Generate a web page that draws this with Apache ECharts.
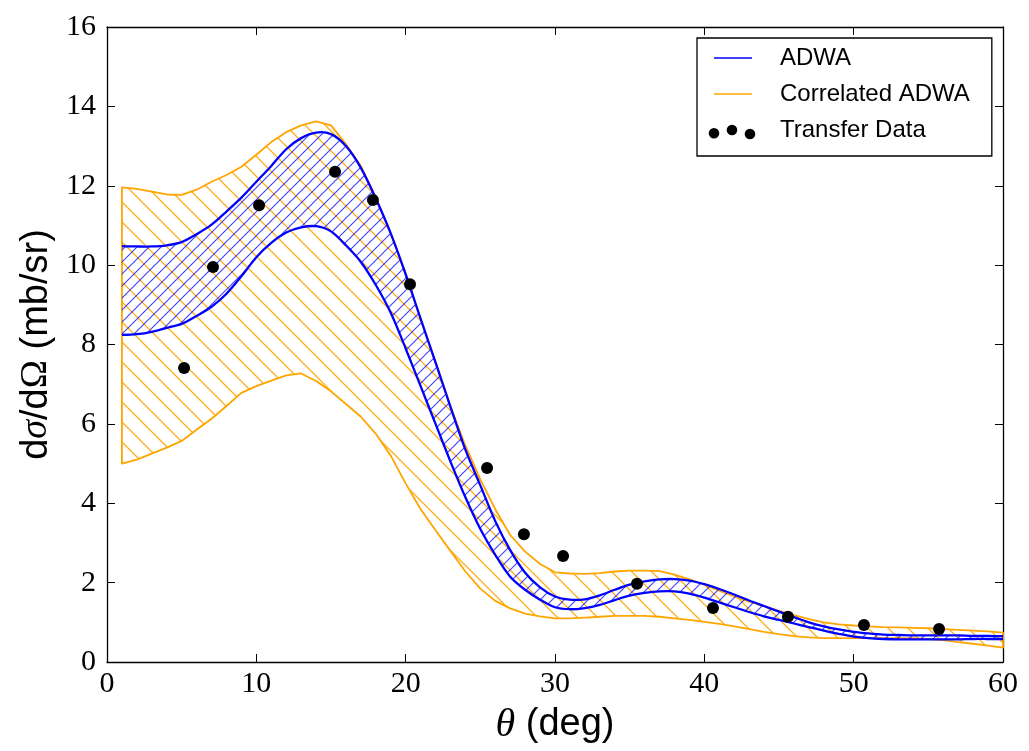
<!DOCTYPE html>
<html>
<head>
<meta charset="utf-8">
<script src="https://cdn.jsdelivr.net/npm/echarts@6.0.0/dist/echarts.min.js"></script>
<style>
  html, body { margin: 0; padding: 0; background: #fff; }
  #chart { width: 1029px; height: 751px; }
</style>
</head>
<body>
<div id="chart"></div>
<script>
// Scattering angle grid (deg) on which both theory bands are tabulated
const thetaGrid = [
  1, 2, 3, 4, 5, 6, 7, 8, 9, 10,
  11, 12, 13, 14, 15, 16, 17, 18, 19, 20,
  21, 22, 23, 24, 25, 26, 27, 28, 29, 30,
  31, 32, 33, 34, 35, 36, 37, 38, 39, 40,
  41, 42, 43, 44, 45, 46, 47, 48, 49, 50,
  51, 52, 53, 54, 55, 56, 57, 58, 59, 60
];

// ADWA band (mb/sr)
const adwaUpper = [
  10.48, 10.47, 10.47, 10.50, 10.58, 10.78, 11.02, 11.35, 11.70, 12.10,
  12.50, 12.92, 13.20, 13.34, 13.30, 13.00, 12.45, 11.68, 10.80, 9.77,
  8.65, 7.55, 6.43, 5.35, 4.45, 3.55, 2.82, 2.25, 1.88, 1.65,
  1.57, 1.58, 1.68, 1.82, 1.95, 2.03, 2.08, 2.09, 2.05, 1.96,
  1.84, 1.70, 1.55, 1.41, 1.27, 1.13, 1.00, 0.90, 0.82, 0.76,
  0.72, 0.69, 0.68, 0.67, 0.67, 0.67, 0.67, 0.66, 0.66, 0.65
];
const adwaLower = [
  8.24, 8.26, 8.32, 8.42, 8.52, 8.72, 8.95, 9.28, 9.72, 10.20,
  10.56, 10.82, 10.95, 10.98, 10.85, 10.50, 10.08, 9.50, 8.80, 7.90,
  6.95, 6.00, 5.05, 4.15, 3.35, 2.70, 2.15, 1.82, 1.57, 1.38,
  1.33, 1.36, 1.44, 1.56, 1.67, 1.74, 1.78, 1.78, 1.72, 1.62,
  1.50, 1.38, 1.26, 1.15, 1.06, 0.97, 0.88, 0.79, 0.71, 0.64,
  0.60, 0.58, 0.57, 0.57, 0.57, 0.57, 0.57, 0.58, 0.58, 0.58
];

// Correlated ADWA band (mb/sr)
const corrUpper = [
  11.96, 11.92, 11.85, 11.78, 11.77, 11.90, 12.10, 12.27, 12.48, 12.78,
  13.10, 13.35, 13.52, 13.62, 13.52, 13.05, 12.50, 11.70, 10.80, 9.77,
  8.65, 7.55, 6.45, 5.45, 4.60, 3.85, 3.20, 2.78, 2.47, 2.26,
  2.23, 2.22, 2.24, 2.28, 2.30, 2.30, 2.29, 2.20, 2.08, 1.95,
  1.80, 1.65, 1.52, 1.40, 1.29, 1.18, 1.08, 1.00, 0.95, 0.92,
  0.90, 0.88, 0.87, 0.86, 0.85, 0.83, 0.81, 0.79, 0.77, 0.74
];
const corrLower = [
  5.00, 5.10, 5.25, 5.40, 5.57, 5.85, 6.13, 6.45, 6.78, 6.95,
  7.09, 7.22, 7.27, 7.08, 6.82, 6.50, 6.18, 5.75, 5.20, 4.50,
  3.85, 3.32, 2.80, 2.28, 1.85, 1.54, 1.35, 1.22, 1.15, 1.10,
  1.10, 1.12, 1.14, 1.16, 1.16, 1.16, 1.14, 1.10, 1.06, 1.01,
  0.96, 0.90, 0.83, 0.76, 0.70, 0.65, 0.62, 0.60, 0.60, 0.60,
  0.60, 0.60, 0.60, 0.60, 0.58, 0.55, 0.50, 0.46, 0.41, 0.36
];

// Measured transfer cross sections
const dataTheta = [5.16, 7.10, 10.18, 15.27, 17.81, 20.29, 25.45, 27.92, 30.54, 35.49, 40.58, 45.60, 50.69, 55.72];
const dataXs    = [7.41, 9.95, 11.51, 12.35, 11.64, 9.52, 4.89, 3.22, 2.67, 1.97, 1.36, 1.14, 0.93, 0.83];

// Axis ticks
const xTicks = { min: 0, max: 60, step: 10 };
const yTicks = { min: 0, max: 16, step: 2 };

const BLUE = '#0000ff';
const ORANGE = '#ffa500';

// Diagonal hatch tile: dir 1 draws "/", dir -1 draws "\"
function hatchPattern(color, spacing, dir, width) {
  const c = document.createElement('canvas');
  c.width = spacing;
  c.height = spacing;
  const g = c.getContext('2d');
  g.strokeStyle = color;
  g.lineWidth = width;
  g.beginPath();
  for (let k = -1; k <= 1; k++) {
    const o = k * spacing;
    if (dir > 0) {
      g.moveTo(o - 1, spacing + 1);
      g.lineTo(o + spacing + 1, -1);
    } else {
      g.moveTo(o - 1, -1);
      g.lineTo(o + spacing + 1, spacing + 1);
    }
  }
  g.stroke();
  return { image: c, repeat: 'repeat' };
}

const blueHatch = hatchPattern('rgba(0,0,255,0.75)', 12, 1, 1.1);
const orangeHatch = hatchPattern('rgba(255,165,0,0.9)', 20, -1, 1.3);

// Filled band between two curves, with optional outlined polygon and edge lines
function bandRenderer(upper, lower, fill, color, outline, edgeWidth) {
  return function (params, api) {
    const top = thetaGrid.map((t, i) => api.coord([t, upper[i]]));
    const bottom = thetaGrid.map((t, i) => api.coord([t, lower[i]]));
    const children = [{
      type: 'polygon',
      shape: { points: top.concat(bottom.slice().reverse()) },
      style: {
        fill: fill,
        stroke: outline ? color : null,
        lineWidth: edgeWidth,
        lineJoin: 'round'
      },
      silent: true
    }];
    if (!outline) {
      [top, bottom].forEach(pts => children.push({
        type: 'polyline',
        shape: { points: pts, smooth: 0.3 },
        style: { fill: null, stroke: color, lineWidth: edgeWidth, lineJoin: 'round' },
        silent: true
      }));
    }
    return { type: 'group', children: children };
  };
}

// Legend icons: invisible corner anchors keep every icon on the same 67x20 box
const ANCH = 'M0,0h0.01v0.01h-0.01Z M67,20h0.01v0.01h-0.01Z ';
const lineIcon = 'path://' + ANCH + 'M6,9.2H44V10.8H6Z';
function dot(cx, cy, r) {
  return 'M' + (cx - r) + ',' + cy + 'a' + r + ',' + r + ' 0 1,0 ' + (2 * r) + ',0' +
         'a' + r + ',' + r + ' 0 1,0 ' + (-2 * r) + ',0Z ';
}
const dotsIcon = 'path://' + ANCH + dot(6, 13.3, 5.3) + dot(24, 10, 5.3) + dot(42, 14, 5.3);

const tickFont = { fontFamily: 'Liberation Serif', fontSize: 30, color: '#000' };
const axisLineStyle = { lineStyle: { color: '#000', width: 1.3 } };
const tickStyle = { show: true, inside: true, length: 8, lineStyle: { color: '#000', width: 1 } };

function xAxisDef(pos, labels) {
  return {
    type: 'value', position: pos,
    min: xTicks.min, max: xTicks.max, interval: xTicks.step,
    axisLine: Object.assign({ show: true, onZero: false }, axisLineStyle),
    axisTick: tickStyle,
    splitLine: { show: false },
    axisLabel: labels ? Object.assign({ show: true, margin: 7 }, tickFont) : { show: false }
  };
}
function yAxisDef(pos, labels) {
  return {
    type: 'value', position: pos,
    min: yTicks.min, max: yTicks.max, interval: yTicks.step,
    axisLine: Object.assign({ show: true, onZero: false }, axisLineStyle),
    axisTick: tickStyle,
    splitLine: { show: false },
    axisLabel: labels ? Object.assign({ show: true, margin: 11 }, tickFont) : { show: false }
  };
}

const xMain = xAxisDef('bottom', true);
xMain.name = '{s|θ}{n| (deg)}';
xMain.nameLocation = 'middle';
xMain.nameGap = 43;
xMain.nameTextStyle = {
  rich: {
    s: { fontFamily: 'Liberation Serif', fontStyle: 'italic', fontSize: 40, color: '#000' },
    n: { fontFamily: 'Liberation Sans', fontSize: 38, color: '#000' }
  }
};

const yMain = yAxisDef('left', true);
yMain.name = '{n|d}{s|σ}{n|/d}{o|Ω}{n| (mb/sr)}';
yMain.nameLocation = 'middle';
yMain.nameGap = 48;
yMain.nameTextStyle = {
  rich: {
    n: { fontFamily: 'Liberation Sans', fontSize: 38, color: '#000' },
    s: { fontFamily: 'Liberation Serif', fontStyle: 'italic', fontSize: 38, color: '#000' },
    o: { fontFamily: 'Liberation Serif', fontSize: 38, color: '#000' }
  }
};

const chart = echarts.init(document.getElementById('chart'), null, { renderer: 'canvas' });
chart.setOption({
  animation: false,
  backgroundColor: '#fff',
  grid: { left: 107, right: 26, top: 27, bottom: 89, containLabel: false },
  xAxis: [xMain, xAxisDef('top', false)],
  yAxis: [yMain, yAxisDef('right', false)],
  legend: {
    orient: 'vertical',
    left: 697, top: 38,
    padding: [8, 22, 14, 11],
    itemGap: 12,
    itemWidth: 67, itemHeight: 20,
    borderColor: '#000', borderWidth: 1.3, borderRadius: 0,
    backgroundColor: '#fff',
    selectedMode: false,
    textStyle: { fontFamily: 'Liberation Sans', fontSize: 24, color: '#000' },
    data: [
      { name: 'ADWA', icon: lineIcon, itemStyle: { color: BLUE, borderWidth: 0 } },
      { name: 'Correlated ADWA', icon: lineIcon, itemStyle: { color: ORANGE, borderWidth: 0 } },
      { name: 'Transfer Data', icon: dotsIcon, itemStyle: { color: '#000', borderWidth: 0 } }
    ]
  },
  series: [
    {
      name: 'Correlated ADWA',
      type: 'custom',
      coordinateSystem: 'cartesian2d',
      itemStyle: { color: ORANGE },
      data: [[thetaGrid[0], corrUpper[0]]],
      renderItem: bandRenderer(corrUpper, corrLower, orangeHatch, ORANGE, true, 1.8),
      z: 2
    },
    {
      name: 'ADWA',
      type: 'custom',
      coordinateSystem: 'cartesian2d',
      itemStyle: { color: BLUE },
      data: [[thetaGrid[0], adwaUpper[0]]],
      renderItem: bandRenderer(adwaUpper, adwaLower, blueHatch, BLUE, false, 2.3),
      z: 3
    },
    {
      name: 'Transfer Data',
      type: 'scatter',
      symbol: 'circle',
      symbolSize: 12,
      itemStyle: { color: '#000', opacity: 1 },
      data: dataTheta.map((t, i) => [t, dataXs[i]]),
      z: 4
    }
  ]
});
</script>
</body>
</html>
